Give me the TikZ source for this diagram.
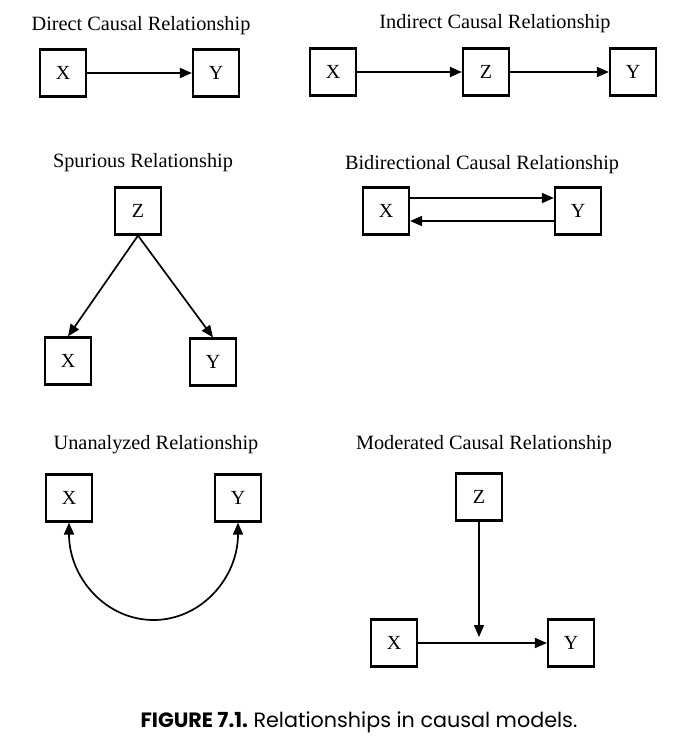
\documentclass[tikz,border=0pt]{standalone}
\usepackage{fontspec}
\setmainfont{Liberation Serif}
\newfontfamily\capfont{Poppins}
\usetikzlibrary{arrows.meta}
\begin{document}
\begin{tikzpicture}[x=1pt,y=-1pt,
  var/.style={draw,line width=2.2pt,minimum width=46pt,minimum height=47pt,inner sep=0pt,font=\fontsize{20}{24}\selectfont},
  ttl/.style={font=\fontsize{20.3}{24}\selectfont,inner sep=0pt},
  arr/.style={line width=1.7pt,-{Triangle[length=12pt,width=10pt]}},
  harr/.style={line width=1.7pt,{Triangle[length=12pt,width=10pt]}-{Triangle[length=12pt,width=10pt]}}]
\useasboundingbox (0,0) rectangle (674,747);
% Direct
\node[ttl] (t1) at (141,26) {Direct Causal Relationship};
\node[var] (dx) at (63,73) {X};
\node[var] (dy) at (216,73) {Y};
\draw[arr] (dx) -- (dy);
% Indirect
\node[ttl] (t2) at (495,24) {Indirect Causal Relationship};
\node[var] (ix) at (333,72) {X};
\node[var] (iz) at (486,72) {Z};
\node[var] (iy) at (633,72) {Y};
\draw[arr] (ix) -- (iz);
\draw[arr] (iz) -- (iy);
% Spurious
\node[ttl] (t3) at (143,163) {Spurious Relationship};
\node[var] (sz) at (138,211) {Z};
\node[var] (sx) at (68,361) {X};
\node[var] (sy) at (213,362) {Y};
\draw[arr] (sz.south) -- (sx.north);
\draw[arr] (sz.south) -- (sy.north);
% Bidirectional
\node[ttl] (t4) at (482,165) {Bidirectional Causal Relationship};
\node[var] (bx) at (386,211) {X};
\node[var] (by) at (578,211) {Y};
\draw[arr] ([yshift=13pt]bx.east) -- ([yshift=13pt]by.west);
\draw[arr] ([yshift=-10pt]by.west) -- ([yshift=-10pt]bx.east);
% Unanalyzed
\node[ttl] (t5) at (156,445) {Unanalyzed Relationship};
\node[var] (ux) at (69,498) {X};
\node[var] (uy) at (238,498) {Y};
\draw[harr] (ux.south) .. controls (69,578) and (106,620) .. (153.5,620)
  .. controls (201,620) and (238,578) .. (uy.south);
% Moderated
\node[ttl] (t6) at (484,445) {Moderated Causal Relationship};
\node[var] (mz) at (479,497) {Z};
\node[var] (mx) at (394,643) {X};
\node[var] (my) at (571,643) {Y};
\coordinate (mm) at (479,637);
\draw[arr] (mz.south) -- (mm);
\draw[arr] (mx) -- (my);
% Caption
\node[font=\capfont\fontsize{20.7}{24}\selectfont,inner sep=0pt] (cap) at (359,722) {\textbf{FIGURE 7.1.}\ Relationships in causal models.};
\end{tikzpicture}
\end{document}
